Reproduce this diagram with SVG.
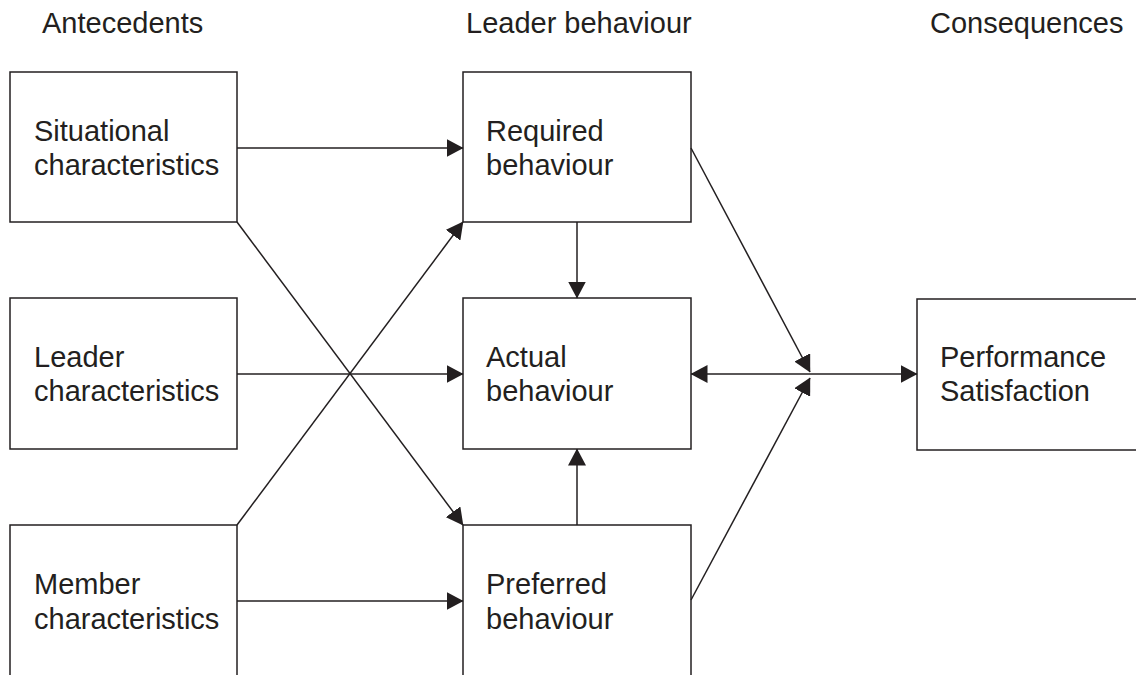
<svg xmlns="http://www.w3.org/2000/svg" width="1136" height="675" viewBox="0 0 1136 675">
<style>
text{font-family:"Liberation Sans",Arial,sans-serif;font-size:29px;fill:#231f20}
.box{fill:#fff;stroke:#231f20;stroke-width:1.5}
.ln{fill:none;stroke:#231f20;stroke-width:1.5}
</style>
<defs>
<marker id="ah" markerUnits="userSpaceOnUse" markerWidth="17" markerHeight="18" refX="16.5" refY="9" orient="auto-start-reverse" viewBox="0 0 17 18">
<path d="M0,0 L17,9 L0,18 Z" fill="#231f20"/>
</marker>
</defs>
<rect width="1136" height="675" fill="#fff"/>
<g id="headers">
<text x="42" y="33">Antecedents</text>
<text x="466" y="33">Leader behaviour</text>
<text x="930" y="33">Consequences</text>
</g>
<g id="situational"><rect class="box" x="10" y="72" width="227" height="150"/><text x="34" y="141">Situational</text><text x="34" y="175">characteristics</text></g>
<g id="leader"><rect class="box" x="10" y="298" width="227" height="151"/><text x="34" y="367">Leader</text><text x="34" y="401">characteristics</text></g>
<g id="member"><rect class="box" x="10" y="525" width="227" height="170"/><text x="34" y="594">Member</text><text x="34" y="629">characteristics</text></g>
<g id="required"><rect class="box" x="463" y="72" width="228" height="150"/><text x="486" y="141">Required</text><text x="486" y="175">behaviour</text></g>
<g id="actual"><rect class="box" x="463" y="298" width="228" height="151"/><text x="486" y="367">Actual</text><text x="486" y="401">behaviour</text></g>
<g id="preferred"><rect class="box" x="463" y="525" width="228" height="170"/><text x="486" y="594">Preferred</text><text x="486" y="629">behaviour</text></g>
<g id="consequences"><rect class="box" x="917" y="299" width="240" height="151"/><text x="940" y="367">Performance</text><text x="940" y="401">Satisfaction</text></g>
<g id="connectors">
<line class="ln" x1="237" y1="148" x2="463" y2="148" marker-end="url(#ah)"/>
<line class="ln" x1="237" y1="374" x2="463" y2="374" marker-end="url(#ah)"/>
<line class="ln" x1="237" y1="601" x2="463" y2="601" marker-end="url(#ah)"/>
<line class="ln" x1="237" y1="222" x2="463" y2="525" marker-end="url(#ah)"/>
<line class="ln" x1="237" y1="525" x2="463" y2="222" marker-end="url(#ah)"/>
<line class="ln" x1="577" y1="222" x2="577" y2="298" marker-end="url(#ah)"/>
<line class="ln" x1="577" y1="525" x2="577" y2="449" marker-end="url(#ah)"/>
<line class="ln" x1="691" y1="148" x2="810" y2="372" marker-end="url(#ah)"/>
<line class="ln" x1="691" y1="600" x2="810" y2="378" marker-end="url(#ah)"/>
<line class="ln" x1="691" y1="374" x2="917" y2="374" marker-start="url(#ah)" marker-end="url(#ah)"/>
</g>
</svg>
